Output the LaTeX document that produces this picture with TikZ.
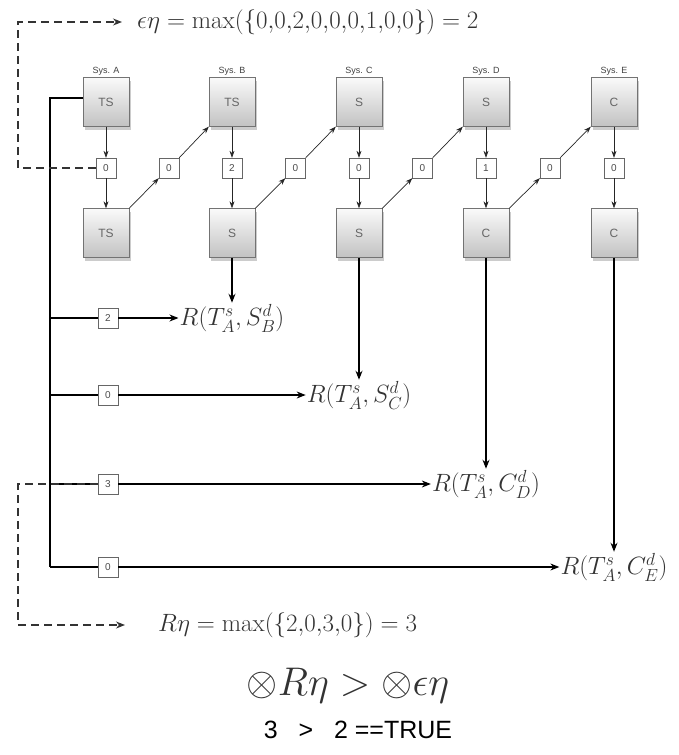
\RequirePackage{fix-cm}
\documentclass[tikz,border=0pt]{standalone}
\usepackage{amsmath}
\usepackage{fontspec}
\setsansfont{Liberation Sans}
\usetikzlibrary{arrows.meta, positioning, shadows, calc}

\begin{document}
\begin{tikzpicture}[
    x=1pt, y=-1pt,
    sysbox/.style={draw=black!55, minimum width=46pt, minimum height=49pt,
                   top color=gray!4, bottom color=gray!48,
                   drop shadow={shadow xshift=2pt, shadow yshift=-3pt, opacity=0.4},
                   font=\fontsize{12}{13}\selectfont\sffamily, text=black!60},
    valbox/.style={draw=black!60, fill=white, minimum size=20pt, inner sep=0pt,
                   font=\fontsize{10}{11}\selectfont\sffamily, text=black!70},
    syslbl/.style={font=\fontsize{9}{10}\selectfont\sffamily, text=black!75,
                   inner sep=1pt},
    rel/.style={font=\fontsize{25}{27}\selectfont, text=black!80, inner sep=1pt},
    maxi/.style={font=\fontsize{25}{27}\selectfont, text=black!80, inner sep=1pt},
    flow/.style={-{Stealth[length=9pt, width=7pt]}, line width=1.1pt},
    link/.style={-{Stealth[length=7pt, width=5pt]}, line width=0.7pt, black!85},
    dashline/.style={-{Stealth[length=9pt, width=7pt]}, dashed,
                     dash pattern=on 8pt off 5pt, line width=1.2pt, black!80},
    >=Stealth
  ]
  \useasboundingbox (0,0) rectangle (678,755);

  % Systems: top state, eta value, bottom state
  \foreach \x/\s/\t/\b/\v in {106/A/TS/TS/0, 232/B/TS/S/2, 359/C/S/S/0,
                              486/D/S/C/1, 614/E/C/C/0} {
    \node[sysbox] (t\s) at (\x,102) {\t};
    \node[syslbl, above=1pt of t\s] (l\s) {Sys. \s};
    \node[valbox] (v\s) at (\x,168) {\v};
    \node[sysbox] (b\s) at (\x,233) {\b};
    \draw[link] (t\s) -- (v\s);
    \draw[link] (v\s) -- (b\s);
  }

  % Transitions between systems
  \foreach \s/\n in {A/B, B/C, C/D, D/E} {
    \node[valbox] (m\s) at ($(v\s)!0.5!(v\n)$) {0};
    \draw[link] (b\s.north east) -- (m\s.south west);
    \draw[link] (m\s.north east) -- (t\n.south west);
  }

  % Relations with system A
  \coordinate (spine) at (50,567);
  \draw[line width=1.1pt] ([yshift=4pt]tA.west) -| (spine);
  \foreach \y/\v/\s/\k [count=\i] in {318/2/B/S, 395/0/C/S, 484/3/D/C, 567/0/E/C} {
    \node[valbox] (w\i) at (108,\y) {\v};
    \node[rel] (r\i) at (t\s |- w\i) {$R(T^{s}_{A},\k^{d}_{\s})$};
    \draw[line width=1.1pt] (w\i -| spine) -- (w\i);
    \draw[flow] (w\i) -- (r\i);
    \draw[flow] (b\s) -- (r\i);
  }

  % Maxima
  \node[maxi, anchor=west] (eps) at (136,22)
    {$\epsilon\eta = \max(\{0{,}0{,}2{,}0{,}0{,}0{,}1{,}0{,}0\}) = 2$};
  \coordinate (epsCorner) at (18,22);
  \draw[dashline] (vA.west) -| (epsCorner) -- ([xshift=-14pt]eps.west);

  \node[maxi, anchor=west] (reta) at (157,625)
    {$R\eta = \max(\{2{,}0{,}3{,}0\}) = 3$};
  \coordinate (retaCorner) at (18,625);
  \draw[dashline] (w3.west) -| (retaCorner) -- ([xshift=-32pt]reta.west);

  % Comparison
  \node[font=\fontsize{40}{42}\selectfont, text=black!80] (cmp) at (348,686)
    {$\otimes R\eta > \otimes\epsilon\eta$};
  \node[font=\fontsize{25}{27}\selectfont\sffamily] (res) at (358,730)
    {3 \ \ > \ \ 2 ==TRUE};
\end{tikzpicture}
\end{document}
